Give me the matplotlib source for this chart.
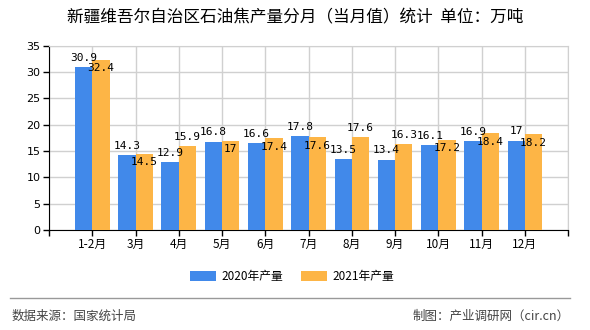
import matplotlib.pyplot as plt
import numpy as np

plt.rcParams['font.family'] = ['Noto Sans CJK SC', 'DejaVu Sans']

months = ['1-2月', '3月', '4月', '5月', '6月', '7月', '8月', '9月', '10月', '11月', '12月']
output_2020 = [30.9, 14.3, 12.9, 16.8, 16.6, 17.8, 13.5, 13.4, 16.1, 16.9, 17]
output_2021 = [32.4, 14.5, 15.9, 17, 17.4, 17.6, 17.6, 16.3, 17.2, 18.4, 18.2]

blue = '#4189EA'
orange = '#FDB546'

fig = plt.figure(figsize=(5.9, 3.3), dpi=100)
ax = fig.add_axes([0.083, 0.303, 0.88, 0.558])

x = np.arange(1, len(months) + 1)
w = 0.4
ax.bar(x - w / 2, output_2020, w, color=blue, label='2020年产量', zorder=3)
ax.bar(x + w / 2, output_2021, w, color=orange, label='2021年产量', zorder=3)

lab_font = dict(family='DejaVu Sans Mono', fontsize=8, color='black', zorder=4)
for xi, a, b in zip(x, output_2020, output_2021):
    ax.annotate(f'{a:g}', (xi - w / 2, a), xytext=(0, 3), textcoords='offset points',
                ha='center', va='bottom', **lab_font)
    if abs(b - a) < 2:
        # close values: label drawn at top of the orange bar
        ax.annotate(f'{b:g}', (xi + w / 2, b), xytext=(0, -6), textcoords='offset points',
                    ha='center', va='center', **lab_font)
    else:
        ax.annotate(f'{b:g}', (xi + w / 2, b), xytext=(0, 3), textcoords='offset points',
                    ha='center', va='bottom', **lab_font)

ax.set_xlim(0, 12)
ax.set_ylim(0, 35)
ax.set_yticks(range(0, 36, 5))
ax.set_xticks(range(0, 13))
ax.set_xticklabels([''] + months + [''])
ax.tick_params(axis='x', length=4, width=1, labelsize=8.5, pad=2)
ax.tick_params(axis='y', length=4, width=1, labelsize=8, pad=2)
for lbl in ax.get_yticklabels():
    lbl.set_family('DejaVu Sans')

ax.grid(True, color='#d0d0d0', linewidth=1, zorder=0)
ax.set_axisbelow(True)
ax.spines['left'].set_color('black')
ax.spines['bottom'].set_color('black')
ax.spines['top'].set_color('#d0d0d0')
ax.spines['right'].set_color('#d0d0d0')

fig.text(0.5, 0.945, '新疆维吾尔自治区石油焦产量分月（当月值）统计  单位：万吨',
         ha='center', va='center', fontsize=12, fontweight='medium')

fig.legend(loc='center', bbox_to_anchor=(0.495, 0.163), ncol=2, frameon=False,
           fontsize=8.5, handlelength=2.2, handleheight=0.9, columnspacing=1.5,
           handletextpad=0.5)

fig.add_artist(plt.Line2D([0.017, 0.966], [0.097, 0.097], transform=fig.transFigure,
                          color='#999999', linewidth=1))
fig.text(0.02, 0.042, '数据来源：国家统计局', ha='left', va='center', fontsize=9, color='#444444')
fig.text(0.966, 0.042, '制图：产业调研网（cir.cn）', ha='right', va='center', fontsize=9, color='#444444')

fig.savefig('out.png', dpi=100)
